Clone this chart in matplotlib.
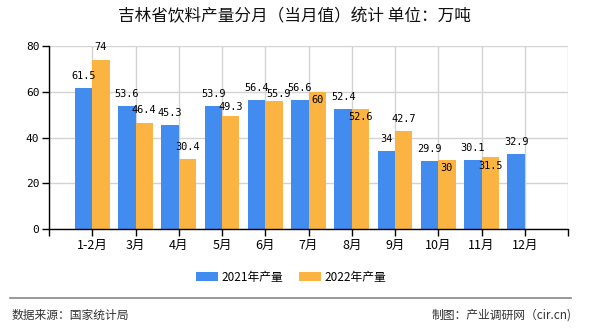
import matplotlib
matplotlib.use("Agg")
import matplotlib.pyplot as plt
import numpy as np

categories = ["1-2月", "3月", "4月", "5月", "6月", "7月", "8月", "9月", "10月", "11月", "12月"]
values_2021 = [61.5, 53.6, 45.3, 53.9, 56.4, 56.6, 52.4, 34, 29.9, 30.1, 32.9]
values_2022 = [74, 46.4, 30.4, 49.3, 55.9, 60, 52.6, 42.7, 30, 31.5, None]
series_names = ["2021年产量", "2022年产量"]
yticks = [0, 20, 40, 60, 80]

# label offsets in pixels (dy positive = above bar top), style only
offsets_2022 = [13, 13, 12.5, 9, 7.5, -8, -8, 12, -8, -9, 0]
xshift_2022 = [0, 0, 0, 0, 5, 0, 0, 0, 0, 0, 0]

plt.rcParams['font.family'] = ['Noto Sans CJK SC', 'DejaVu Sans']
C1 = "#428BEF"
C2 = "#FBB441"
PT = 72 / 100.0  # points per pixel at dpi 100

fig = plt.figure(figsize=(5.9, 3.3), dpi=100)
ax = fig.add_axes([49/590, 1-229/330, (568-49)/590, (229-46)/330])

x = np.arange(1, len(categories) + 1)
w = 0.4

def fmt(v):
    return ("%g" % v)

for i, v in enumerate(values_2021):
    ax.bar(x[i] - w/2, v, width=w, color=C1, zorder=2,
           label=series_names[0] if i == 0 else None)
    ax.annotate(fmt(v), (x[i] - w/2, v), xytext=(0, 12 * PT), textcoords="offset points",
                ha="center", va="center", fontsize=7.4, family="DejaVu Sans Mono", zorder=4)
for i, v in enumerate(values_2022):
    if v is None:
        continue
    ax.bar(x[i] + w/2, v, width=w, color=C2, zorder=2,
           label=series_names[1] if i == 0 else None)
    ax.annotate(fmt(v), (x[i] + w/2, v), xytext=(xshift_2022[i] * PT, offsets_2022[i] * PT),
                textcoords="offset points",
                ha="center", va="center", fontsize=7.4, family="DejaVu Sans Mono", zorder=4)

ax.set_xlim(0, 12)
ax.set_ylim(0, 80)
ax.set_yticks(yticks)
ax.set_yticklabels([str(t) for t in yticks], family="DejaVu Sans Mono", fontsize=8)
ax.set_xticks(np.arange(0, 13))
ax.set_xticklabels([""] + categories + [""], fontsize=9)
ax.tick_params(axis="both", direction="out", length=5, width=1, color="black", pad=2)
ax.grid(True, color="#d3d3d3", linewidth=1, zorder=0)
ax.set_axisbelow(True)
for s in ["top", "right"]:
    ax.spines[s].set_visible(False)
for s in ["left", "bottom"]:
    ax.spines[s].set_color("black")
    ax.spines[s].set_linewidth(1)

fig.text(294.5/590, 1-17/330, "吉林省饮料产量分月（当月值）统计 单位：万吨", ha="center", va="center",
         fontsize=12, color="#111111")

leg = fig.legend(loc="center", bbox_to_anchor=(291/590, 1-277/330), ncol=2, frameon=False,
                 fontsize=8.5, handlelength=1.9, handleheight=0.7, columnspacing=1.3,
                 handletextpad=0.3)

fig.add_artist(plt.Line2D([10/590, 571/590], [1-298/330, 1-298/330], color="#888888", lw=1.2))
fig.text(12/590, 1-315/330, "数据来源：国家统计局", ha="left", va="center", fontsize=8.5, color="#333333")
fig.text(572/590, 1-315/330, "制图：产业调研网（cir.cn)", ha="right", va="center", fontsize=8.5, color="#333333")

fig.savefig("out.png", dpi=100)
